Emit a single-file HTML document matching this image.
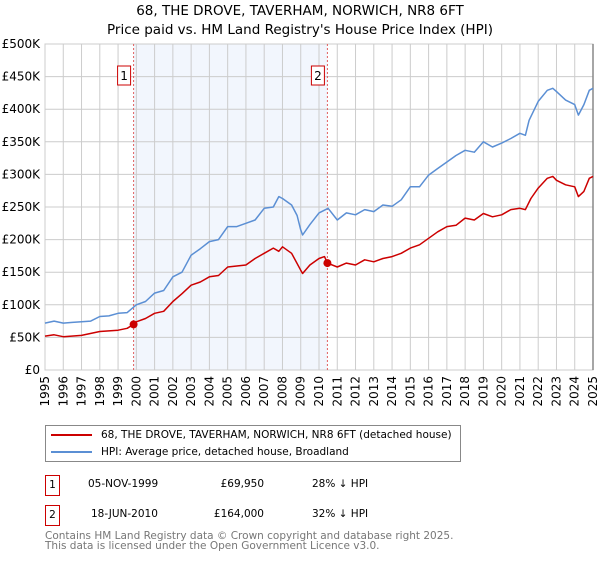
<!DOCTYPE html>
<html><head><meta charset="utf-8"><style>
body{margin:0;background:#fff;width:600px;height:560px;overflow:hidden;font-family:"DejaVu Sans","Liberation Sans",sans-serif}
svg text{font-family:"DejaVu Sans","Liberation Sans",sans-serif}
.tb div{white-space:nowrap}
</style></head><body>
<svg id="c" width="600" height="560"></svg>
<script>
const hpiYears=[1995,1995.5,1996,1996.5,1997,1997.5,1998,1998.5,1999,1999.5,2000,2000.5,2001,2001.5,2002,2002.5,2003,2003.5,2004,2004.5,2005,2005.5,2006,2006.5,2007,2007.5,2007.8,2008,2008.5,2008.8,2009,2009.1,2009.5,2010,2010.5,2011,2011.5,2012,2012.5,2013,2013.5,2014,2014.5,2015,2015.5,2016,2016.5,2017,2017.5,2018,2018.5,2019,2019.5,2020,2020.5,2021,2021.3,2021.5,2022,2022.5,2022.8,2023,2023.5,2024,2024.2,2024.5,2024.8,2025];
const hpiValues=[72,75,72,73,74,75,82,83,87,88,100,105,118,122,143,150,176,186,197,200,220,220,225,230,248,250,266,263,253,237,215,207,223,241,248,230,241,238,246,243,253,251,261,281,281,299,309,319,329,337,334,350,342,348,355,363,360,383,412,429,432,427,414,407,391,407,429,432];
const ppYears=[1995,1995.5,1996,1997,1998,1999,1999.5,1999.85,2000,2000.5,2001,2001.5,2002,2002.5,2003,2003.5,2004,2004.5,2005,2006,2006.5,2007,2007.5,2007.8,2008,2008.5,2009,2009.1,2009.5,2010,2010.3,2010.46,2011,2011.5,2012,2012.5,2013,2013.5,2014,2014.5,2015,2015.5,2016,2016.5,2017,2017.5,2018,2018.5,2019,2019.5,2020,2020.5,2021,2021.3,2021.6,2022,2022.5,2022.8,2023,2023.5,2024,2024.2,2024.5,2024.8,2025];
const ppValues=[52,54,51,53,59,61,64,70,74,79,87,90,105,117,130,135,143,145,158,161,171,179,187,182,189,179,153,148,161,171,174,164,158,164,161,169,166,171,174,179,187,192,202,212,220,222,233,230,240,235,238,246,248,246,263,279,294,297,291,284,281,266,274,294,297];
const saleYears=[1999.85,2010.46];
const saleValues=[69.95,164];
const saleLabels=["1","2"];
const yTicks=[0,50,100,150,200,250,300,350,400,450,500];
const yTickLabels=["£0","£50K","£100K","£150K","£200K","£250K","£300K","£350K","£400K","£450K","£500K"];
const xTicks=[1995,1996,1997,1998,1999,2000,2001,2002,2003,2004,2005,2006,2007,2008,2009,2010,2011,2012,2013,2014,2015,2016,2017,2018,2019,2020,2021,2022,2023,2024,2025];

const X0=45,X1=593,Y0=370,Y1=44;
const xs=y=>X0+(y-1995)/30*(X1-X0);
const ys=v=>Y0-v/500*(Y0-Y1);
const svg=document.getElementById('c');
const NS='http://www.w3.org/2000/svg';
function mk(t,a,p){const e=document.createElementNS(NS,t);for(const k in a)e.setAttribute(k,a[k]);(p||svg).appendChild(e);return e;}

let e=mk('rect',{x:xs(saleYears[0]),y:Y1,width:xs(saleYears[1])-xs(saleYears[0]),height:Y0-Y1,fill:'#f2f6fd'});


yTicks.forEach((v,i)=>{
 let l=mk('line',{x1:X0,x2:X1,y1:ys(v),y2:ys(v),stroke:'#cccccc','stroke-width':1});
 
 
 let t=mk('text',{x:X0-5,y:ys(v)+4,'text-anchor':'end','font-size':12,fill:'#000'});
 t.textContent=yTickLabels[i];
 
 
});
xTicks.forEach(yr=>{
 let l=mk('line',{x1:xs(yr),x2:xs(yr),y1:Y1,y2:Y0,stroke:'#cccccc','stroke-width':1});
 
 
 let t=mk('text',{x:0,y:0,'text-anchor':'end','font-size':12,fill:'#000',transform:`translate(${xs(yr)+4},${Y0+6}) rotate(-90)`});
 t.textContent=yr;
 
 
});
e=mk('rect',{x:X0,y:Y1,width:X1-X0,height:Y0-Y1,fill:'none',stroke:'#cccccc'});


e=mk('line',{x1:X1,x2:X1,y1:Y1,y2:Y0,stroke:'#888','stroke-width':1.5});



saleYears.forEach((yr,i)=>{
 let l=mk('line',{x1:xs(yr),x2:xs(yr),y1:Y1,y2:Y0,stroke:'#e06060','stroke-width':1,'stroke-dasharray':'2,2'});
 
 
 let r=mk('rect',{x:xs(yr)-16,y:66,width:13,height:19,fill:'#fff',stroke:'#cc0000'});
 
 
 let t=mk('text',{x:xs(yr)-9.5,y:80,'text-anchor':'middle','font-size':12});
 t.textContent=saleLabels[i];
 
 
});

function path(xa,va,col,name){
 let d=xa.map((x,i)=>(i?'L':'M')+xs(x).toFixed(1)+','+ys(va[i]).toFixed(1)).join('');
 let p=mk('path',{d:d,fill:'none',stroke:col,'stroke-width':1.5,'stroke-linejoin':'round'});
 
 
}
path(hpiYears,hpiValues,'#5b8fd4','hpi-line');
path(ppYears,ppValues,'#cc0000','price-paid-line');
saleYears.forEach((yr,i)=>{
 let c=mk('circle',{cx:xs(yr),cy:ys(saleValues[i]),r:4,fill:'#cc0000'});
 
 
});
</script>
<div style="position:absolute;left:0;top:2px;width:600px;text-align:center;font-size:13.5px;line-height:19px">68, THE DROVE, TAVERHAM, NORWICH, NR8 6FT<br>Price paid vs. HM Land Registry's House Price Index (HPI)</div>
<div style="position:absolute;left:45px;top:425px;width:414px;height:35px;border:1px solid #888;font-size:10.5px">
 <div style="position:absolute;left:5px;top:3px;white-space:nowrap"><span style="display:inline-block;width:41px;height:2px;background:#cc0000;vertical-align:middle;margin-right:9px"></span>68, THE DROVE, TAVERHAM, NORWICH, NR8 6FT (detached house)</div>
 <div style="position:absolute;left:5px;top:20px;white-space:nowrap"><span style="display:inline-block;width:41px;height:2px;background:#5b8fd4;vertical-align:middle;margin-right:9px"></span>HPI: Average price, detached house, Broadland</div>
</div>
<div class="tb" style="position:absolute;left:0;top:0;font-size:10.5px">
 <div style="position:absolute;left:45px;top:475px;width:13px;height:19px;border:1px solid #cc0000;text-align:center;line-height:19px">1</div>
 <div style="position:absolute;left:88px;top:478px">05-NOV-1999</div>
 <div style="position:absolute;left:164px;width:100px;text-align:right;top:478px">£69,950</div>
 <div style="position:absolute;left:312px;top:478px">28% ↓ HPI</div>
 <div style="position:absolute;left:45px;top:505px;width:13px;height:19px;border:1px solid #cc0000;text-align:center;line-height:19px">2</div>
 <div style="position:absolute;left:91px;top:508px">18-JUN-2010</div>
 <div style="position:absolute;left:164px;width:100px;text-align:right;top:508px">£164,000</div>
 <div style="position:absolute;left:312px;top:508px">32% ↓ HPI</div>
</div>
<div style="position:absolute;left:45px;top:531px;font-size:10.5px;line-height:10px;color:#777;white-space:nowrap">Contains HM Land Registry data © Crown copyright and database right 2025.<br>This data is licensed under the Open Government Licence v3.0.</div>
</body></html>
